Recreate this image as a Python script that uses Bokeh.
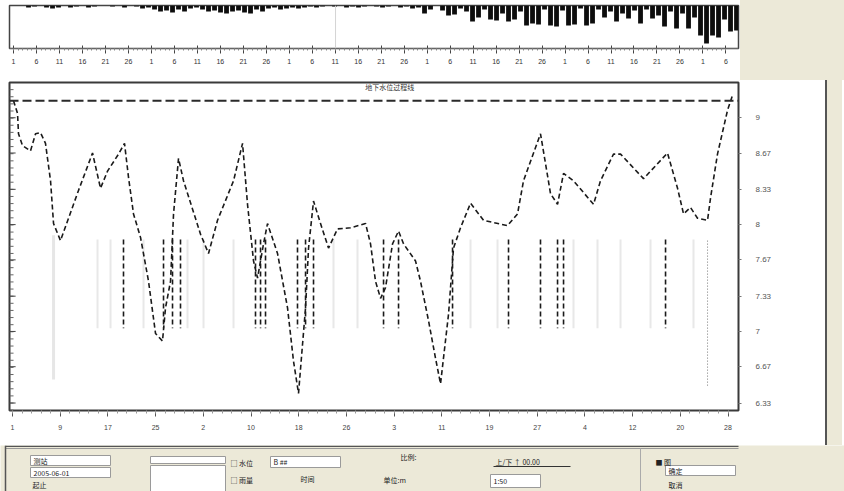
from bokeh.plotting import figure
from bokeh.models import Range1d, FixedTicker, Span, Label, Div
from bokeh.layouts import column, row
from bokeh.core.properties import value
from bokeh.embed import file_html
from bokeh.resources import INLINE

BEIGE = "#ECE9D8"
CJK = "Noto Sans CJK SC"

# ---- data -------------------------------------------------------------
# daily rainfall (mm), one value per day slot
RAIN_MM = [0, 0, 0, 2, 1, 0, 2, 3, 2, 0,
           2, 1, 0, 2, 1, 0, 0, 1, 0, 2,
           0, 1, 3, 2, 4, 6, 5, 7, 4, 6,
           3, 2, 4, 6, 5, 7, 8, 6, 5, 7,
           8, 4, 6, 3, 2, 4, 3, 2, 3, 2,
           1, 2, 1, 0, 1, 0, 2, 1, 2, 1,
           0, 1, 2, 1, 0, 2, 1, 3, 2, 8,
           4, 0, 5, 10, 9, 3, 6, 16, 12, 4,
           14, 15, 8, 16, 14, 6, 20, 18, 19, 4,
           20, 21, 5, 20, 19, 3, 20, 18, 4, 12,
           6, 16, 8, 13, 5, 18, 4, 13, 10, 21,
           6, 23, 8, 23, 12, 30, 38, 30, 32, 14,
           26, 25]
RAIN_DAY = list(range(len(RAIN_MM)))

# water level observations (day, level)
LEVEL_DAY = [0.5, 1.17, 1.33, 2.0, 3.33, 4.17, 5.0, 5.83, 6.67, 7.17,
             8.33, 9.67, 11.33, 13.67, 15.0, 16.17, 18.0, 19.0, 19.67, 20.5,
             21.67, 23.0, 24.17, 25.33, 25.83, 26.67, 27.17, 28.0, 28.83, 31.67,
             33.0, 34.5, 37.17, 38.67, 39.5, 40.5, 41.17, 42.17, 42.83, 44.5,
             46.17, 47.17, 48.0, 48.67, 49.17, 49.67, 50.5, 51.67, 53.0, 54.5,
             56.67, 59.17, 60.0, 60.83, 61.67, 62.5, 63.67, 64.67, 65.5, 67.5,
             68.33, 69.67, 70.83, 71.67, 73.0, 73.83, 75.0, 76.67, 78.83, 82.83,
             84.5, 85.5, 88.33, 89.17, 90.0, 91.17, 92.17, 93.83, 97.17, 98.33,
             100.5, 101.67, 105.5, 109.5, 111.17, 112.17, 113.33, 114.5, 116.17, 116.67,
             117.83, 119.5, 120.33]
LEVEL_M = [9.16, 9.04, 8.85, 8.74, 8.69, 8.85, 8.86, 8.76, 8.41, 8.01,
           7.85, 8.06, 8.32, 8.67, 8.34, 8.50, 8.66, 8.76, 8.44, 8.10,
           7.88, 7.47, 6.98, 6.91, 7.22, 7.47, 8.10, 8.62, 8.41, 7.91,
           7.73, 8.04, 8.41, 8.76, 8.19, 7.66, 7.50, 7.82, 8.01, 7.73,
           7.22, 6.72, 6.42, 6.88, 7.22, 7.78, 8.22, 8.01, 7.78, 7.96,
           7.97, 8.01, 7.82, 7.47, 7.31, 7.41, 7.82, 7.94, 7.82, 7.66,
           7.47, 7.10, 6.75, 6.51, 7.16, 7.78, 7.97, 8.20, 8.04, 7.99,
           8.10, 8.41, 8.85, 8.57, 8.29, 8.19, 8.48, 8.41, 8.19, 8.41,
           8.66, 8.66, 8.43, 8.67, 8.34, 8.10, 8.16, 8.06, 8.04, 8.25,
           8.66, 9.07, 9.21]

WARNING_LEVEL = 9.16

EVENT_DAYS = [18.83, 25.5, 27.0, 28.33, 40.83, 41.67, 42.5, 47.83, 49.17, 50.5,
              62.17, 64.67, 73.67, 83.0, 88.33, 91.17, 92.17, 109.17]
EVENT_TOP = 7.86
EVENT_BOTTOM = 7.03

FAINT_DAYS = [14.5, 16.67, 22.17, 29.5, 32.17, 37.17, 53.83, 57.83, 76.67,
              81.17, 93.83, 97.83, 101.67, 106.67, 113.83]
LONG_FAINT_DAY = 7.17
LONG_FAINT_TOP = 7.90
LONG_FAINT_BOTTOM = 6.55

WELL_DAY = 116.17
WELL_TOP = 7.85
WELL_BOTTOM = 6.49

MARK_DAY = 54.17

RIGHT_TICKS = [9.0, 8.67, 8.33, 8.0, 7.67, 7.33, 7.0, 6.67, 6.33]
RIGHT_TICK_LABELS = ["9", "8.67", "8.33", "8", "7.67", "7.33", "7", "6.67", "6.33"]

TOP_TICK_LABELS = ["1", "6", "11", "16", "21", "26"] * 5 + ["1", "6"]
BOTTOM_TICK_LABELS = ["1", "9", "17", "25", "2", "10", "18", "26",
                      "3", "11", "19", "27", "4", "12", "20", "28"]

TITLE_TEXT = "地下水位过程线"

# form (UI chrome under the chart): boxes and captions
FORM_BOX_LEFT = [30, 30, 150, 150, 270, 490, 665]
FORM_BOX_RIGHT = [110, 110, 225, 225, 340, 540, 735]
FORM_BOX_TOP = [10, 22, 11, 20, 11, 29, 20]
FORM_BOX_BOTTOM = [20, 32, 18, 46, 22, 42, 30]
FORM_BOX_TEXT = ["测站", "2005-06-01", "", "", "B   ##", "1:50", "确定"]
FORM_TEXT = ["起止", "□ 水位", "□ 雨量", "时间", "比例:", "单位:m", "上/下 ↑ 00.00", "■ 图", "取消"]
FORM_TEXT_X = [32, 230, 230, 300, 400, 383, 495, 655, 668]
FORM_TEXT_Y = [39, 17, 34, 33, 11, 34, 16, 16, 39]

# ---- shared x range ---------------------------------------------------
xr = Range1d(-0.17, 121.33)

# ---- top rainfall panel -----------------------------------------------
top = figure(width=740, height=80, x_range=xr, y_range=Range1d(-43, 0), title=None,
             output_backend="svg", toolbar_location=None, y_axis_location=None,
             min_border_left=9, min_border_right=2, min_border_top=5, min_border_bottom=32,
             background_fill_color="white", border_fill_color="white",
             outline_line_color="#444", outline_line_width=1.5)
top.grid.visible = False
top.vbar(x=RAIN_DAY, top=0, bottom=[-v for v in RAIN_MM], width=0.8,
         fill_color="#0d0d0d", line_color=None)
top.add_layout(Span(location=MARK_DAY, dimension="height", line_color="#d4d4d4", line_width=1))
top_ticks = [round(0.5 + i * 3.83, 2) for i in range(len(TOP_TICK_LABELS))]
top.xaxis.ticker = FixedTicker(ticks=top_ticks,
                               minor_ticks=[round(0.5 + i * 0.766, 3) for i in range(156)])
top.xaxis.major_label_overrides = dict(zip(top_ticks, TOP_TICK_LABELS))
top.xaxis.major_label_text_font_size = "7px"
top.xaxis.major_label_text_color = "#333"
top.xaxis.major_label_standoff = 5
top.xaxis.major_tick_in = 3
top.xaxis.major_tick_out = 5
top.xaxis.minor_tick_in = 0
top.xaxis.minor_tick_out = 2
top.xaxis.axis_line_color = "#666"
top.xaxis.major_tick_line_color = "#444"
top.xaxis.minor_tick_line_color = "#888"

# ---- main water level panel -------------------------------------------
main = figure(width=825, height=365, x_range=xr, y_range=Range1d(6.26, 9.33), title=None,
              output_backend="svg", toolbar_location=None, y_axis_location="right",
              min_border_left=9, min_border_right=87, min_border_top=2, min_border_bottom=35,
              background_fill_color="white", border_fill_color="white",
              outline_line_color="#3a3a3a", outline_line_width=2)
main.grid.visible = False

# inner tick marks along the left edge of the frame
left_minor = [round(6.33 + j / 15, 4) for j in range(-1, 45)]
main.segment(x0=[-0.17] * len(left_minor), y0=left_minor,
             x1=[0.5] * len(left_minor), y1=left_minor,
             line_color="#666", line_width=1)
main.segment(x0=[-0.17] * len(RIGHT_TICKS), y0=RIGHT_TICKS,
             x1=[0.85] * len(RIGHT_TICKS), y1=RIGHT_TICKS,
             line_color="#444", line_width=1)

# faint background verticals
main.segment(x0=FAINT_DAYS, y0=[EVENT_TOP] * len(FAINT_DAYS),
             x1=FAINT_DAYS, y1=[EVENT_BOTTOM] * len(FAINT_DAYS),
             line_color="#e8e8e8", line_width=2)
main.segment(x0=[LONG_FAINT_DAY], y0=[LONG_FAINT_TOP], x1=[LONG_FAINT_DAY], y1=[LONG_FAINT_BOTTOM],
             line_color="#e6e6e6", line_width=3)
main.segment(x0=[WELL_DAY], y0=[WELL_TOP], x1=[WELL_DAY], y1=[WELL_BOTTOM],
             line_color="#777", line_width=1, line_dash="1 2")

# event markers
main.segment(x0=EVENT_DAYS, y0=[EVENT_TOP] * len(EVENT_DAYS),
             x1=EVENT_DAYS, y1=[EVENT_BOTTOM] * len(EVENT_DAYS),
             line_color="#1a1a1a", line_width=1.6, line_dash="5 3")

# warning level
main.add_layout(Span(location=WARNING_LEVEL, dimension="width", line_color="#2a2a2a",
                     line_width=2, line_dash="9 4"))

# water level hydrograph
main.line(LEVEL_DAY, LEVEL_M, line_color="#1a1a1a", line_width=1.6, line_dash="5 3")

main.add_layout(Label(x=63.2, y=9.285, text=TITLE_TEXT, text_font=CJK,
                      text_font_size="7px", text_color="#333",
                      text_align="center", text_baseline="middle"))

# right axis
ry = main.yaxis[0]
ry.ticker = FixedTicker(ticks=RIGHT_TICKS)
ry.major_label_overrides = dict(zip(RIGHT_TICKS, RIGHT_TICK_LABELS))
ry.major_label_text_font_size = "8px"
ry.major_label_text_color = "#555"
ry.major_label_standoff = 14
ry.major_tick_in = 0
ry.major_tick_out = 3
ry.minor_tick_out = 0
ry.axis_line_color = None
ry.major_tick_line_color = "#777"

# bottom time axis
bottom_ticks = [round(0.33 + i * 7.95, 2) for i in range(len(BOTTOM_TICK_LABELS))]
main.xaxis.ticker = FixedTicker(ticks=bottom_ticks,
                                minor_ticks=[round(0.33 + i * 1.59, 2) for i in range(76)])
main.xaxis.major_label_overrides = dict(zip(bottom_ticks, BOTTOM_TICK_LABELS))
main.xaxis.major_label_text_font_size = "7px"
main.xaxis.major_label_text_color = "#444"
main.xaxis.major_label_standoff = 8
main.xaxis.major_tick_in = 0
main.xaxis.major_tick_out = 6
main.xaxis.minor_tick_in = 0
main.xaxis.minor_tick_out = 3
main.xaxis.axis_line_color = None
main.xaxis.major_tick_line_color = "#555"
main.xaxis.minor_tick_line_color = "#999"

# ---- form area ----------------------------------------------------------
form = figure(width=844, height=46, x_range=Range1d(0, 844), y_range=Range1d(46, 0), title=None,
              output_backend="svg", toolbar_location=None,
              x_axis_location=None, y_axis_location=None, min_border=0,
              background_fill_color=BEIGE, border_fill_color=BEIGE, outline_line_color=None)
form.grid.visible = False
form.segment(x0=[5, 5], y0=[0.8, 3], x1=[738, 738], y1=[0.8, 3],
             line_color=["#555", "#999"], line_width=[1.5, 1])
form.segment(x0=[5, 640], y0=[0, 3], x1=[5, 640], y1=[46, 46],
             line_color=["#555", "#aaa"], line_width=[1.5, 1])
form.quad(left=FORM_BOX_LEFT, right=FORM_BOX_RIGHT, top=FORM_BOX_TOP, bottom=FORM_BOX_BOTTOM,
          fill_color="white", line_color="#9a9a9a", line_width=1)
form.text(x=[l + 3 for l in FORM_BOX_LEFT],
          y=[(t + b) / 2 for t, b in zip(FORM_BOX_TOP, FORM_BOX_BOTTOM)],
          text=FORM_BOX_TEXT, text_font=value(CJK), text_font_size="7px",
          text_color="#222", text_baseline="middle")
form.text(x=FORM_TEXT_X, y=FORM_TEXT_Y, text=FORM_TEXT, text_font=value(CJK),
          text_font_size="7px", text_color="#222", text_baseline="middle")
form.segment(x0=[493], y0=[21], x1=[570], y1=[21], line_color="#333", line_width=1)

# ---- layout -------------------------------------------------------------
right_top = Div(width=104, height=80, margin=0, styles={"background-color": BEIGE})
right_mid = Div(width=17, height=365, margin=0, styles={"background-color": BEIGE,
                                                        "border-left": "2px solid #555"})

layout = column(row(top, right_top), row(main, right_mid), form)

open("out.html", "w").write(file_html(layout, INLINE))
